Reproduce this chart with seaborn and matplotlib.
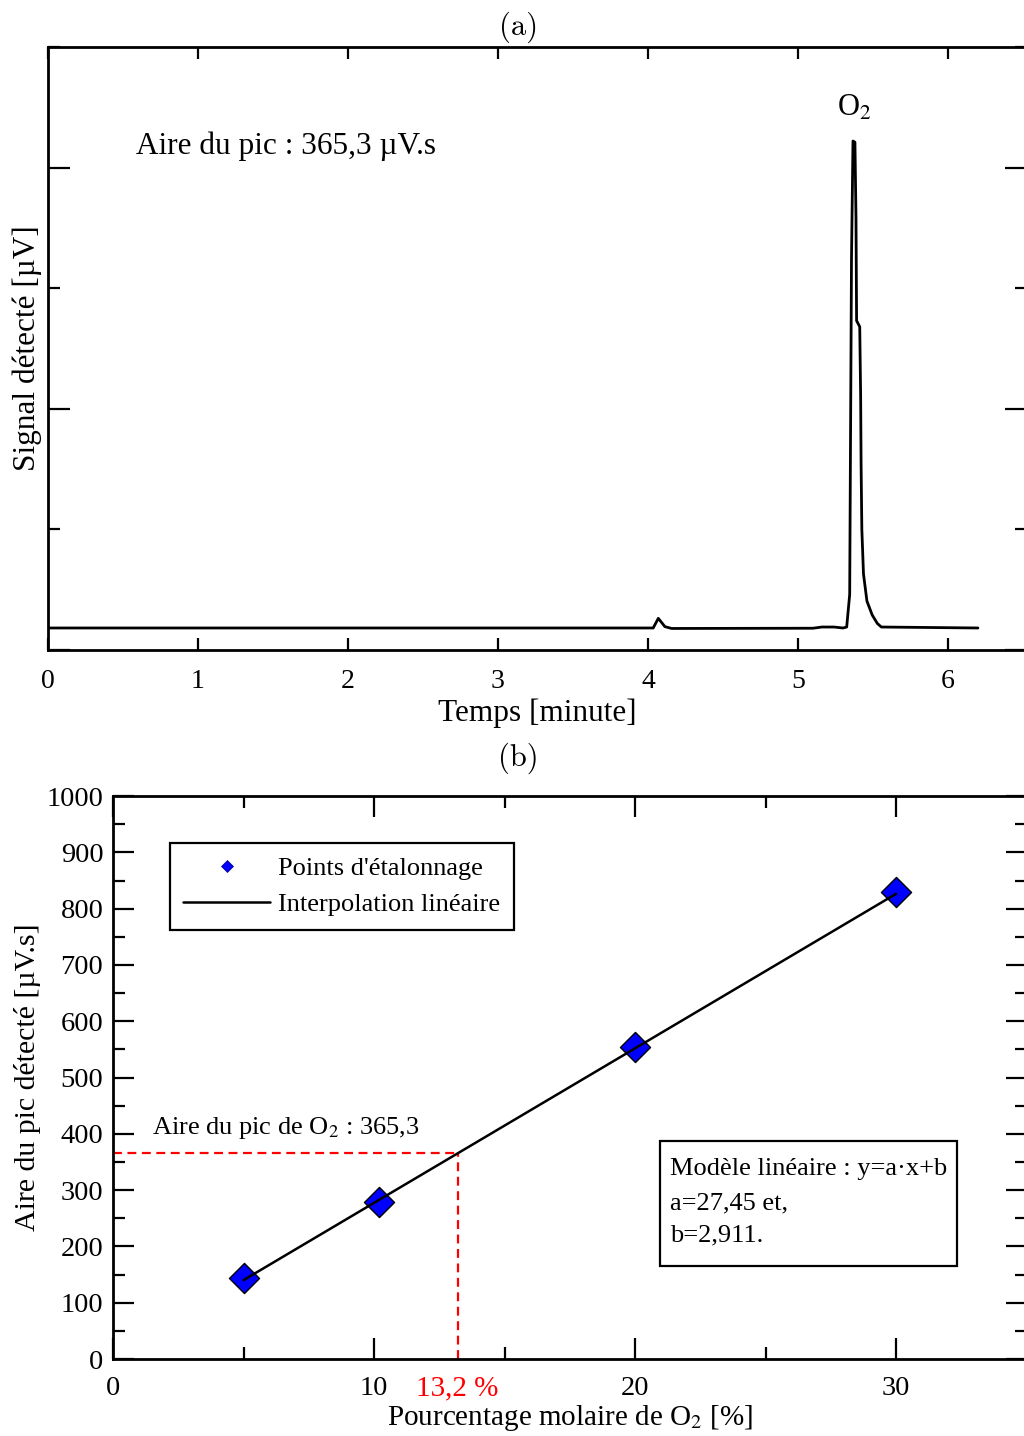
import numpy as np
import pandas as pd
import matplotlib
matplotlib.use('Agg')
import matplotlib.pyplot as plt
from matplotlib.lines import Line2D
from matplotlib.patches import Rectangle
from matplotlib.ticker import MultipleLocator, NullFormatter
import seaborn as sns

# (a) chromatogram
time_min = [0.0, 4.0, 4.035, 4.069, 4.113, 4.158, 5.10, 5.16, 5.24, 5.30,
            5.325, 5.345, 5.357, 5.367, 5.38, 5.387, 5.391, 5.412, 5.418,
            5.421, 5.426, 5.437, 5.46, 5.495, 5.529, 5.556, 6.2]
signal_uv = [18.2, 18.2, 18.2, 26.2, 19.3, 17.8, 18.0, 19.0, 19.0, 18.2,
             19.0, 46.0, 324.0, 422.0, 421.0, 359.0, 273.0, 268.0, 211.0,
             154.0, 100.0, 63.0, 40.5, 29.0, 22.0, 19.0, 18.2]

# (b) calibration
o2_pct = [5.0, 10.2, 20.0, 30.0]
peak_area = [144, 279, 554, 829]
fit_pct = [5.0, 30.0]
fit_area = [140.2, 826.4]
sample_pct = 13.2
sample_area = 365.3

sns.set_theme(style='ticks')
plt.rcParams['font.family'] = ['Liberation Serif', 'DejaVu Serif']
plt.rcParams['mathtext.fontset'] = 'stix'
plt.rcParams['axes.linewidth'] = 2.0
plt.rcParams['axes.edgecolor'] = 'black'
plt.rcParams['text.color'] = 'black'
plt.rcParams['axes.labelcolor'] = 'black'
plt.rcParams['xtick.color'] = 'black'
plt.rcParams['ytick.color'] = 'black'

fig = plt.figure(figsize=(10.24, 14.36), dpi=100)
ax1 = fig.add_axes([0.0469, 0.5474, 0.956, 0.4199])
ax2 = fig.add_axes([0.1104, 0.0536, 0.8926, 0.392])

# ---- (a)
chrom = pd.DataFrame({'t': time_min, 's': signal_uv})
sns.lineplot(data=chrom, x='t', y='s', ax=ax1, color='black', lw=2.0,
             estimator=None, sort=False)
ax1.set_xlim(0, 6.527)
ax1.set_ylim(0, 500)
ax1.xaxis.set_major_locator(MultipleLocator(1))
ax1.yaxis.set_major_locator(MultipleLocator(200))
ax1.yaxis.set_minor_locator(MultipleLocator(100))
ax1.yaxis.set_major_formatter(NullFormatter())
ax1.tick_params(axis='x', which='major', direction='in', top=True, bottom=True,
                length=8.5, width=1.6, labelsize=20, pad=14)
ax1.tick_params(axis='y', which='major', direction='in', left=True, right=True,
                length=16, width=1.6)
ax1.tick_params(axis='y', which='minor', direction='in', left=True, right=True,
                length=8.5, width=1.6)
ax1.set_xlabel('Temps [minute]', fontsize=22.5, va='center')
ax1.xaxis.set_label_coords(0.5, -0.1045)
ax1.set_ylabel('Signal détecté [µV]', fontsize=22.5, va='center')
ax1.yaxis.set_label_coords(-0.0215, 0.5)
ax1.text(0.0899, 0.836, 'Aire du pic : 365,3 µV.s', transform=ax1.transAxes,
         fontsize=22.5, ha='left', va='center')
ax1.text(0.824, 0.899, 'O$_2$', transform=ax1.transAxes, fontsize=22,
         ha='center', va='center')

# ---- (b)
calib = pd.DataFrame({'pct': o2_pct, 'area': peak_area})
fit = pd.DataFrame({'pct': fit_pct, 'area': fit_area})
sns.scatterplot(data=calib, x='pct', y='area', ax=ax2, marker='D', s=235,
                color='#0000ff', edgecolor='black', linewidth=1.0, zorder=3)
sns.lineplot(data=fit, x='pct', y='area', ax=ax2, color='black', lw=1.8,
             estimator=None, sort=False, zorder=4)
ax2.plot([0, sample_pct], [sample_area, sample_area], color='#ff0000',
         lw=1.6, ls=(0, (4, 2.5)), zorder=2)
ax2.plot([sample_pct, sample_pct], [0, sample_area], color='#ff0000',
         lw=1.6, ls=(0, (4, 2.5)), zorder=2)
ax2.set_xlim(0, 35.02)
ax2.set_ylim(0, 1000)
ax2.xaxis.set_major_locator(MultipleLocator(10))
ax2.xaxis.set_minor_locator(MultipleLocator(5))
ax2.yaxis.set_major_locator(MultipleLocator(100))
ax2.yaxis.set_minor_locator(MultipleLocator(50))
for axis in ('x', 'y'):
    ax2.tick_params(axis=axis, which='major', direction='in', top=True,
                    bottom=True, left=True, right=True, length=15, width=1.6,
                    labelsize=20.5)
    ax2.tick_params(axis=axis, which='minor', direction='in', top=True,
                    bottom=True, left=True, right=True, length=8.5, width=1.6)
ax2.tick_params(axis='x', which='major', pad=12)
ax2.tick_params(axis='y', which='major', pad=7)
ax2.text(sample_pct, -0.052, '13,2 %', transform=ax2.get_xaxis_transform(),
         color='#ff0000', fontsize=21, ha='center', va='center')
ax2.set_xlabel('Pourcentage molaire de O$_2$ [%]', fontsize=21, va='center')
ax2.xaxis.set_label_coords(0.5, -0.1048)
ax2.set_ylabel('Aire du pic détecté [µV.s]', fontsize=21.5, va='center')
ax2.yaxis.set_label_coords(-0.0935, 0.5)
ax2.text(0.0427, 0.41, 'Aire du pic de O$_2$ : 365,3', transform=ax2.transAxes,
         fontsize=19, ha='left', va='center')

handles = [Line2D([], [], marker='D', color='#0000ff', ls='none', ms=6,
                  markeredgecolor='#000080', markeredgewidth=0.5),
           Line2D([], [], color='black', lw=1.8)]
leg = ax2.legend(handles, ["Points d'étalonnage", 'Interpolation linéaire'],
                 loc='upper left', bbox_to_anchor=(0.0624, 0.9165),
                 borderaxespad=0, fontsize=19, frameon=True, fancybox=False,
                 framealpha=1, edgecolor='black', handlelength=3.3,
                 handletextpad=0.3, borderpad=0.5, labelspacing=0.5)
leg.get_frame().set_linewidth(1.6)

ax2.add_patch(Rectangle((0.598, 0.165), 0.325, 0.222, transform=ax2.transAxes,
                        fill=False, edgecolor='black', lw=1.6, zorder=5))
ax2.text(0.609, 0.3375, 'Modèle linéaire : y=a·x+b', transform=ax2.transAxes,
         fontsize=19, ha='left', va='center')
ax2.text(0.609, 0.277, 'a=27,45 et,', transform=ax2.transAxes,
         fontsize=19, ha='left', va='center')
ax2.text(0.609, 0.220, 'b=2,911.', transform=ax2.transAxes,
         fontsize=19, ha='left', va='center')

for ax in (ax1, ax2):
    for sp in ax.spines.values():
        sp.set_visible(True)
        sp.set_linewidth(2.0)

fig.text(0.506, 0.981, '(a)', fontsize=22, family='cmr10', ha='center', va='center')
fig.text(0.506, 0.472, '(b)', fontsize=22, family='cmr10', ha='center', va='center')

fig.savefig('out.png', dpi=100, facecolor='white')
